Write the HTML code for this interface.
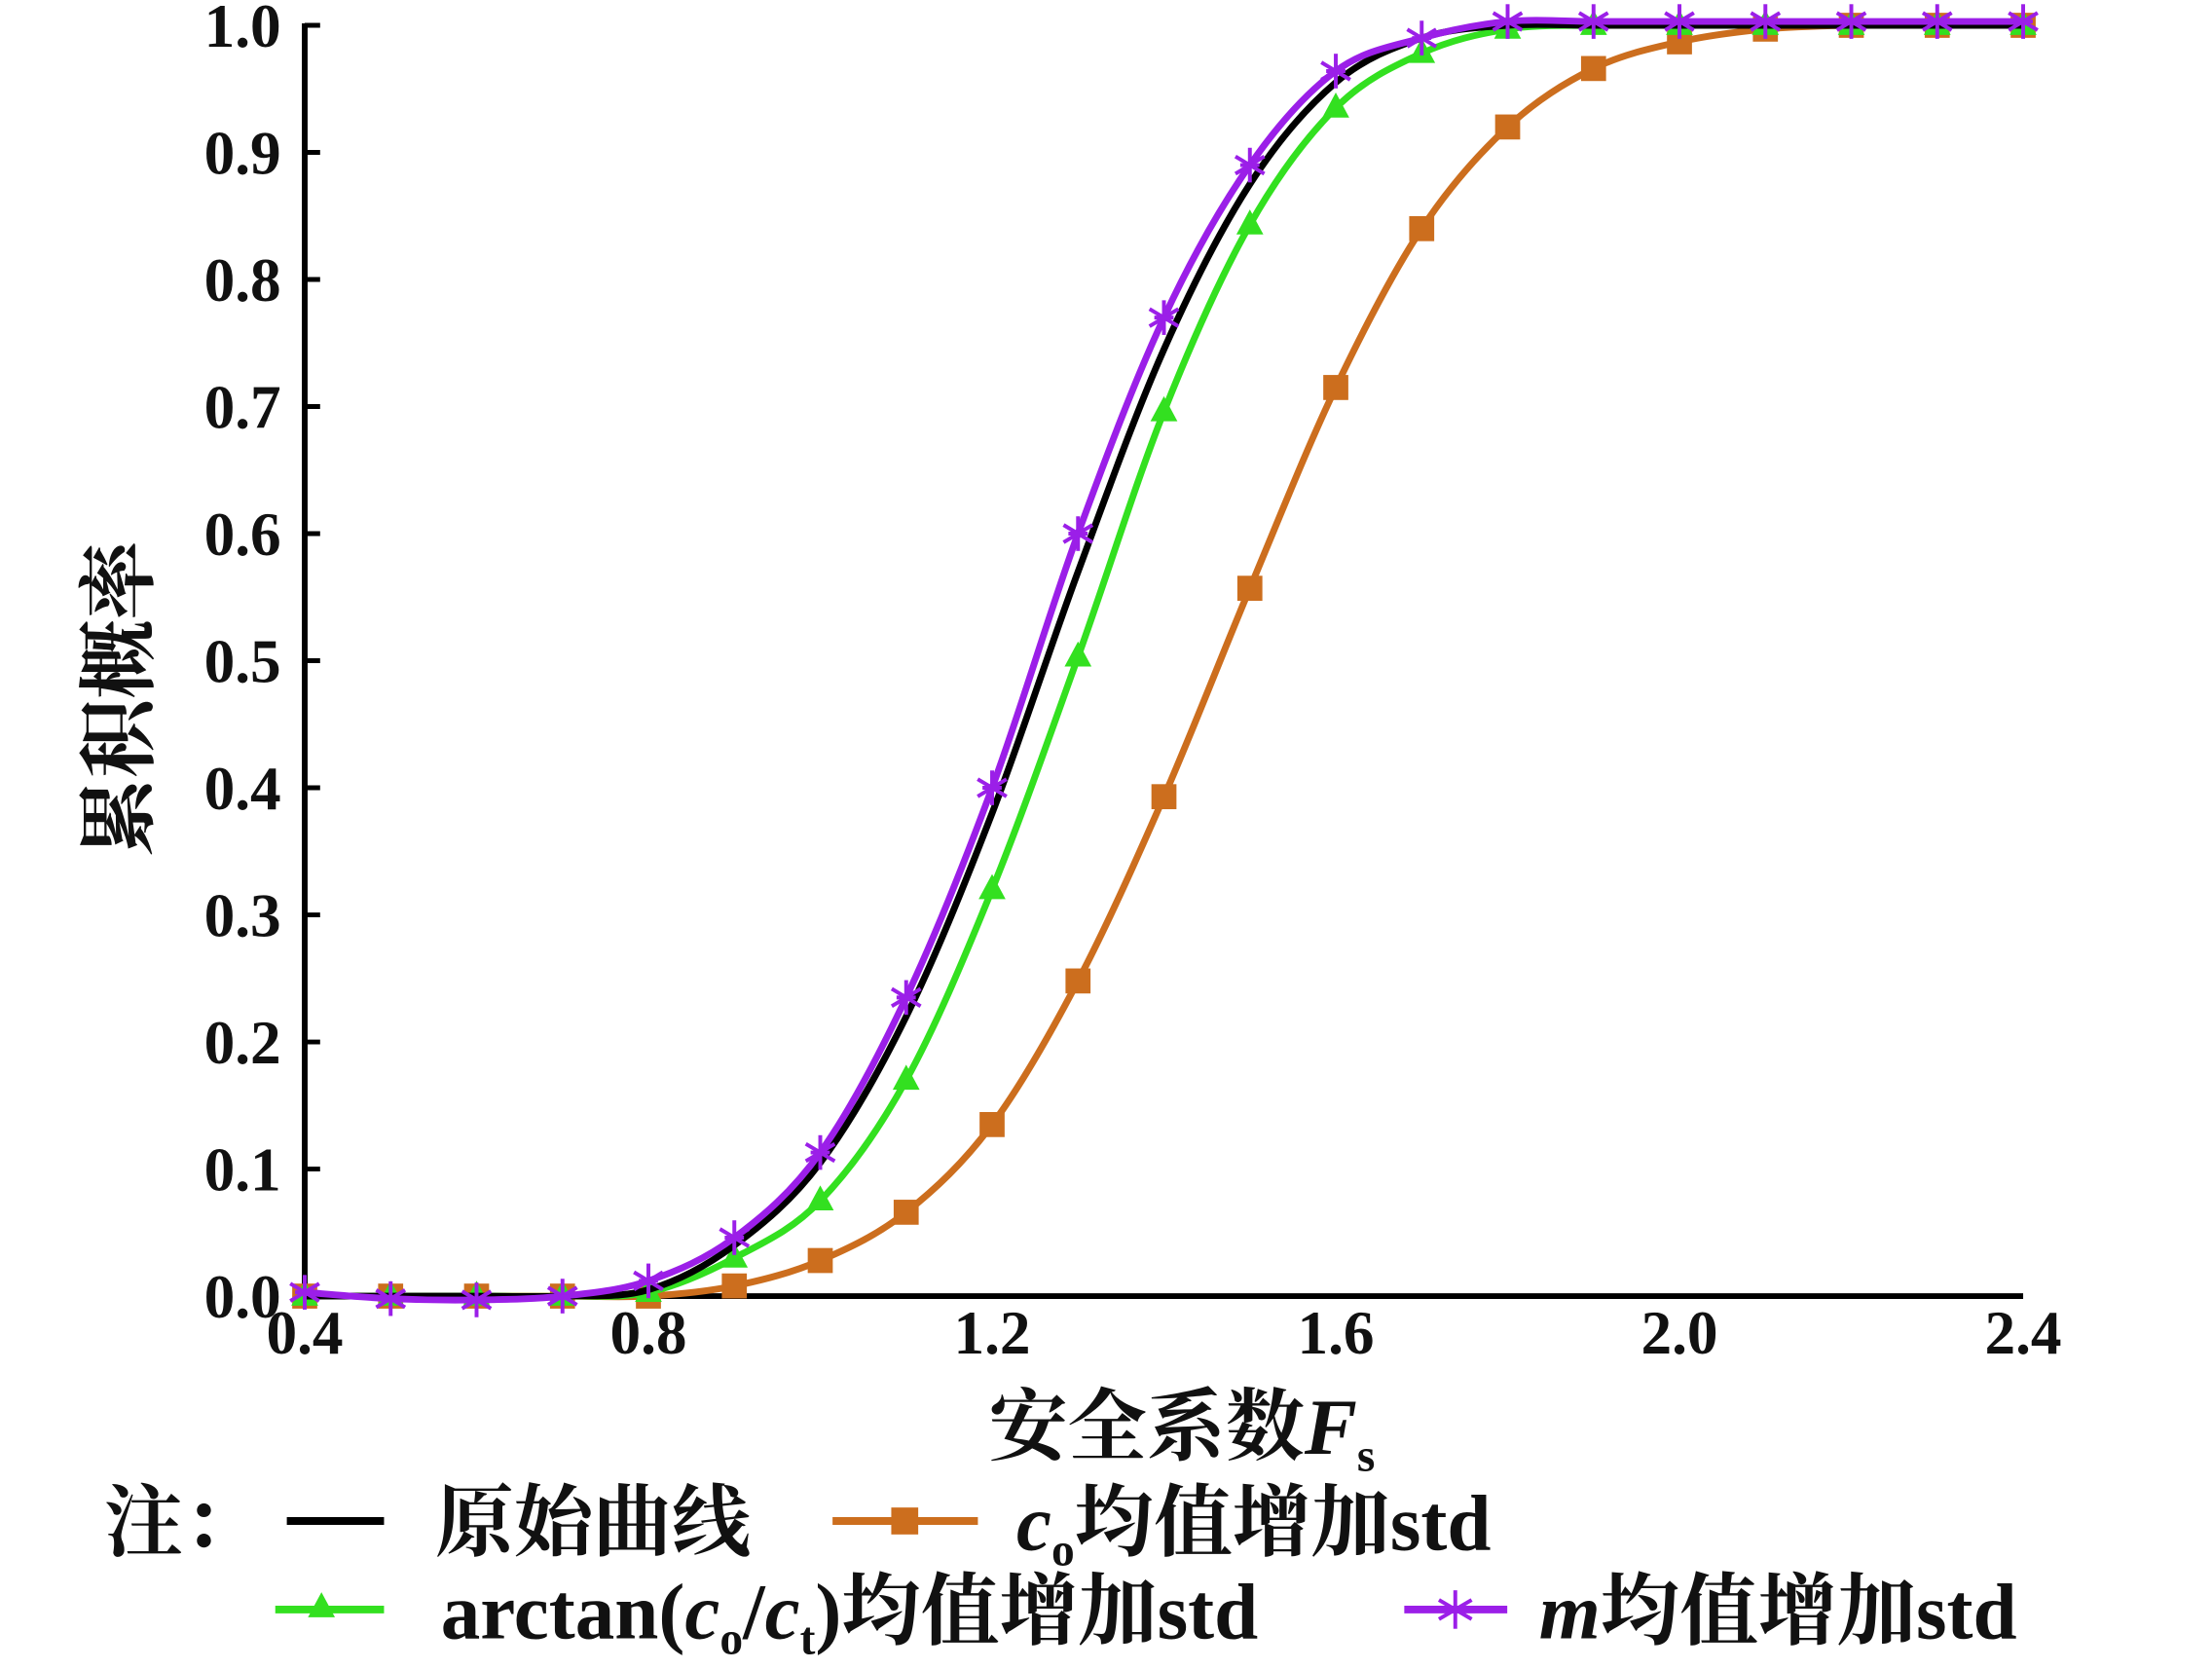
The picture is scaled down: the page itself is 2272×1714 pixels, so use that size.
<!DOCTYPE html>
<html><head><meta charset="utf-8"><style>
html,body{margin:0;padding:0;background:#fff}
svg{display:block}
text{font-family:"Liberation Serif","Noto Serif CJK SC",serif;font-weight:bold;fill:#111}
</style></head><body>
<svg id="chart" width="2272" height="1714" viewBox="0 0 2272 1714" xmlns="http://www.w3.org/2000/svg">
<g transform="scale(0.9886)">
<g id="axes"></g>
<g id="series"></g>
<text transform="translate(152,726) rotate(-90)" text-anchor="middle" font-size="82">累积概率</text>
<text x="1228" y="1510" text-anchor="middle" font-size="82">安全系数<tspan font-style="italic">F</tspan><tspan font-size="48" dy="18">s</tspan></text>
<g font-size="82">
  <text x="108" y="1610">注：</text>
  <g>
    <line x1="298" y1="1580" x2="399" y2="1580" stroke="#000" stroke-width="8"/>
    <text x="452" y="1610">原始曲线</text>
  </g>
  <g>
    <line x1="865" y1="1580" x2="1016" y2="1580" stroke="#CC6E1E" stroke-width="8"/>
    <rect x="926" y="1566" width="28" height="28" fill="#CC6E1E"/>
    <text x="1056" y="1610"><tspan font-style="italic">c</tspan><tspan font-size="48" dy="16">o</tspan><tspan dy="-16">均值增加std</tspan></text>
  </g>
  <g>
    <line x1="286" y1="1672" x2="399" y2="1672" stroke="#33E020" stroke-width="8"/>
    <polygon points="334,1654 320,1680 348,1680" fill="#33E020"/>
    <text x="458" y="1702">arctan(<tspan font-style="italic">c</tspan><tspan font-size="48" dy="16">o</tspan><tspan dy="-16">/</tspan><tspan font-style="italic">c</tspan><tspan font-size="48" dy="16">t</tspan><tspan dy="-16">)均值增加std</tspan></text>
  </g>
  <g>
    <line x1="1459" y1="1672" x2="1566" y2="1672" stroke="#9B1FE8" stroke-width="8"/>
    <g stroke="#9B1FE8" stroke-width="4"><line x1="1512" y1="1652" x2="1512" y2="1692"/><line x1="1495" y1="1662" x2="1529" y2="1682"/><line x1="1495" y1="1682" x2="1529" y2="1662"/></g>
    <text x="1599" y="1702"><tspan font-style="italic">m</tspan>均值增加std</text>
  </g>
</g>
</g>
</svg>
<script>
const xs = [0.4,0.5,0.6,0.7,0.8,0.9,1.0,1.1,1.2,1.3,1.4,1.5,1.6,1.7,1.8,1.9,2.0,2.1,2.2,2.3,2.4];
const originalVals = [0,0,0,0,0.005,0.04,0.105,0.22,0.38,0.57,0.745,0.875,0.955,0.99,1.0,1.0,1.0,1.0,1.0,1.0,1.0];
const c0Vals = [0,0,0,0,0,0.008,0.028,0.066,0.135,0.248,0.393,0.557,0.715,0.84,0.92,0.966,0.987,0.997,1.0,1.0,1.0];
const arctanVals = [0,0,0,0,0.003,0.03,0.075,0.17,0.32,0.503,0.696,0.843,0.935,0.978,0.997,1.0,1.0,1.0,1.0,1.0,1.0];
const mVals = [0.003,-0.002,-0.003,0,0.012,0.046,0.113,0.235,0.4,0.6,0.77,0.89,0.964,0.99,1.003,1.003,1.003,1.003,1.003,1.003,1.003];
const xTicks = [0.4,0.8,1.2,1.6,2.0,2.4];
const xTickLabels = ["0.4","0.8","1.2","1.6","2.0","2.4"];
const yTicks = [0,0.1,0.2,0.3,0.4,0.5,0.6,0.7,0.8,0.9,1.0];
const yTickLabels = ["0.0","0.1","0.2","0.3","0.4","0.5","0.6","0.7","0.8","0.9","1.0"];

const X0=316.6,X1=2102,Y0=1346.4,Y1=26.3;
const sx=v=>X0+(v-0.4)/(2.4-0.4)*(X1-X0);
const sy=v=>Y0-(v-0)/(1-0)*(Y0-Y1);
const NS="http://www.w3.org/2000/svg";
function mk(tag,attrs,parent){const e=document.createElementNS(NS,tag);for(const k in attrs)e.setAttribute(k,attrs[k]);parent.appendChild(e);return e;}
const axes=document.getElementById('axes'), ser=document.getElementById('series');

const ya=mk('line',{x1:X0,y1:Y1-2,x2:X0,y2:Y0,stroke:'#000','stroke-width':6},axes);


const xa=mk('line',{x1:X0-3,y1:Y0,x2:X1,y2:Y0,stroke:'#000','stroke-width':6},axes);


yTicks.forEach((v,i)=>{
  const t=mk('line',{x1:X0,y1:sy(v),x2:X0+16,y2:sy(v),stroke:'#000','stroke-width':5},axes);
  
  
  const l=mk('text',{x:292,y:sy(v)+22,'text-anchor':'end','font-size':64},axes);
  
  
  l.textContent=yTickLabels[i];
});
xTicks.forEach((v,i)=>{
  const l=mk('text',{x:sx(v),y:1406,'text-anchor':'middle','font-size':64},axes);
  
  
  l.textContent=xTickLabels[i];
});

function smooth(vals){
  const p=xs.map((x,i)=>[sx(x),sy(vals[i])]);
  let d=`M${p[0][0]},${p[0][1]}`;
  for(let i=0;i<p.length-1;i++){
    const a=p[i-1]||p[i],b=p[i],c=p[i+1],e=p[i+2]||c;
    d+=` C${b[0]+(c[0]-a[0])/6},${b[1]+(c[1]-a[1])/6} ${c[0]-(e[0]-b[0])/6},${c[1]-(e[1]-b[1])/6} ${c[0]},${c[1]}`;
  }
  return d;
}
const S=[
  {vals:c0Vals,color:'#CC6E1E',marker:'square',name:'c0'},
  {vals:arctanVals,color:'#33E020',marker:'triangle',name:'arctan'},
  {vals:originalVals,color:'#000000',marker:null,name:'original'},
  {vals:mVals,color:'#9B1FE8',marker:'star',name:'m'}
];
S.forEach(s=>{
  const g=mk('g',{},ser);
  
  
  const path=mk('path',{d:smooth(s.vals),fill:'none',stroke:s.color,'stroke-width':7},g);
  
  
  if(!s.marker)return;
  xs.forEach((x,i)=>{
    const cx=sx(x),cy=sy(s.vals[i]);let m;
    if(s.marker==='square') m=mk('rect',{x:cx-13,y:cy-13,width:26,height:26,fill:s.color},g);
    else if(s.marker==='triangle') m=mk('polygon',{points:`${cx},${cy-16} ${cx-14},${cy+10} ${cx+14},${cy+10}`,fill:s.color},g);
    else { m=mk('g',{stroke:s.color,'stroke-width':4},g);
      mk('line',{x1:cx,y1:cy-18,x2:cx,y2:cy+18},m);
      mk('line',{x1:cx-15,y1:cy-9,x2:cx+15,y2:cy+9},m);
      mk('line',{x1:cx-15,y1:cy+9,x2:cx+15,y2:cy-9},m);
      mk('line',{x1:cx-10,y1:cy,x2:cx+10,y2:cy},m); }
    
    
  });
});
</script>
</body></html>
